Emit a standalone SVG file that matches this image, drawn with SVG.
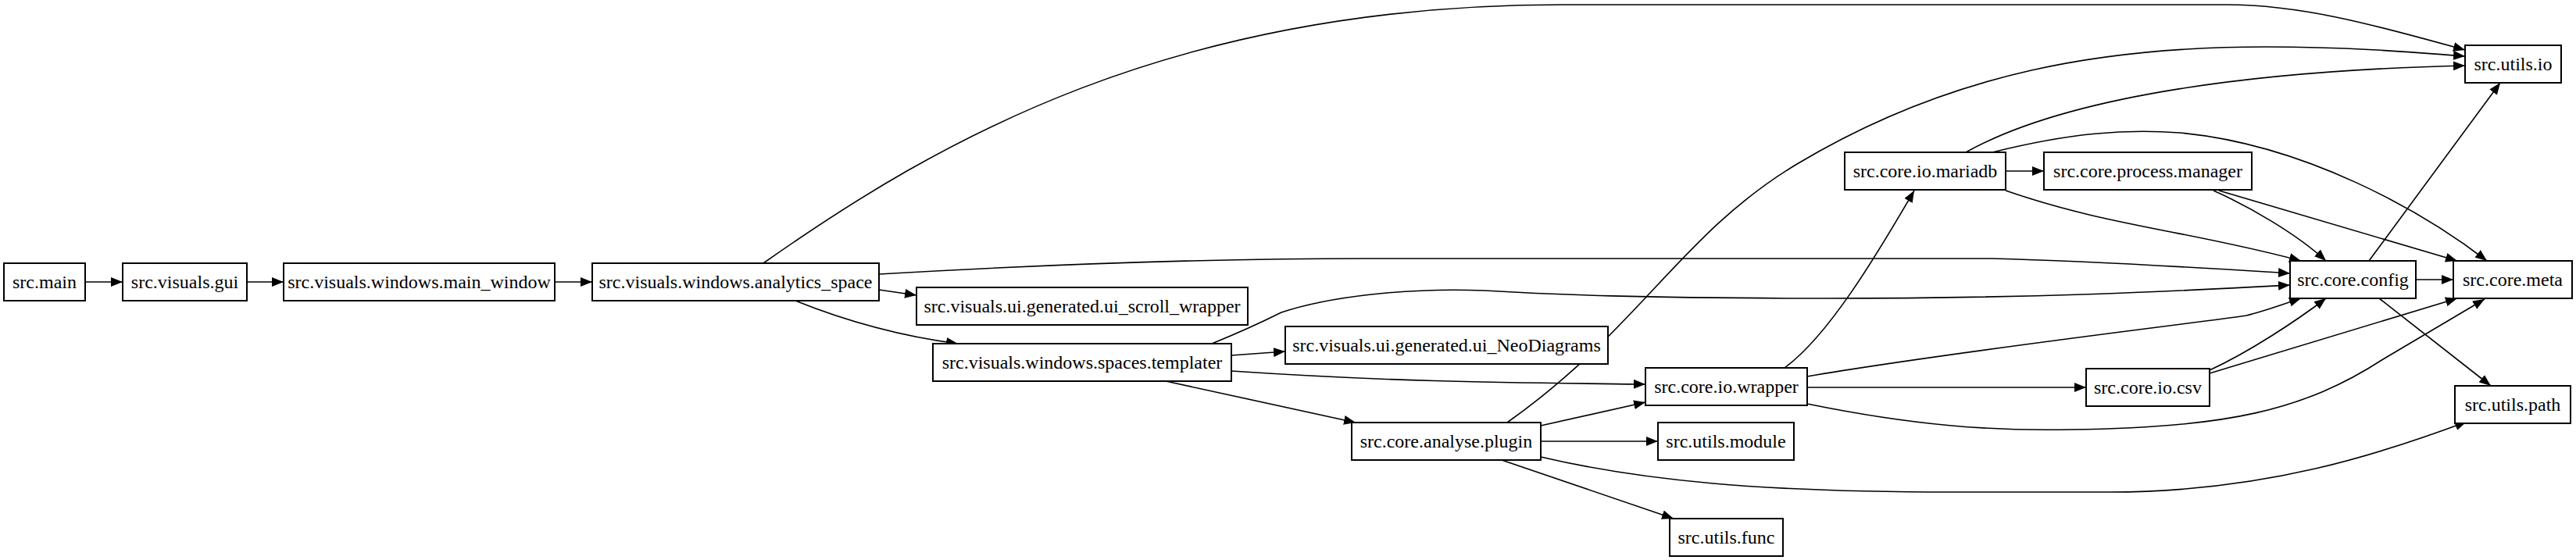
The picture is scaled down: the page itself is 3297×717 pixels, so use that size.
<svg xmlns="http://www.w3.org/2000/svg" width="3297" height="717" viewBox="0 0 3297 717">
<style>
.n rect{fill:#fff;stroke:#000;stroke-width:2}
.n text{font-family:"Liberation Serif","Times New Roman",serif;font-size:24px;text-anchor:middle;dominant-baseline:central;fill:#000}
.e path{fill:none;stroke:#000;stroke-width:1.6;marker-end:url(#a)}
</style>
<defs><marker id="a" markerUnits="userSpaceOnUse" markerWidth="16" markerHeight="12" refX="15" refY="6" orient="auto"><path d="M0,0 L15,6 L0,12 Z" fill="#000"/></marker></defs>
<g id="edges" class="e">
<path d="M109,361 L157,361"/>
<path d="M316,361 L363,361"/>
<path d="M710,361 L758,361"/>
<path d="M977,337 C1200,180 1500,6 2000,6 L2850,6 C2950,6 3050,35 3155,64"/>
<path d="M1125,351 C1400,335 1600,331 1750,331 L2550,331 C2700,335 2850,345 2931,350"/>
<path d="M1125,371 L1173,378"/>
<path d="M1018,385 C1080,410 1150,430 1226,440"/>
<path d="M1551,440 C1600,420 1620,410 1640,400 C1700,380 1800,368 1900,372 C2000,378 2100,381 2300,382 C2600,383 2800,372 2931,365"/>
<path d="M1576,455 L1645,450"/>
<path d="M1576,475 C1800,490 1950,490 2106,492"/>
<path d="M1492,488 L1735,541"/>
<path d="M1929,541 C2100,420 2150,300 2300,210 C2500,90 2700,60 2900,60 C3000,60 3080,66 3155,72"/>
<path d="M1972,545 L2106,515"/>
<path d="M1972,565 L2122,565"/>
<path d="M1972,585 C2100,615 2250,630 2500,630 L2700,630 C2900,630 3050,580 3157,540"/>
<path d="M1922,589 L2142,664"/>
<path d="M2284,471 C2340,430 2400,330 2450,244"/>
<path d="M2313,482 C2500,450 2800,415 2875,404 C2900,398 2920,390 2945,382"/>
<path d="M2313,496 L2670,496"/>
<path d="M2313,517 C2450,545 2550,552 2650,550 C2850,548 2950,525 3050,460 L3180,383"/>
<path d="M2516,195 C2650,120 2900,90 3155,84"/>
<path d="M2550,195 C2650,170 2720,165 2790,170 C2950,185 3100,270 3183,334"/>
<path d="M2567,219 L2616,219"/>
<path d="M2567,244 C2700,290 2800,295 2945,334"/>
<path d="M2833,244 C2880,265 2940,300 2977,334"/>
<path d="M2840,244 L3145,334"/>
<path d="M3032,334 L3200,106"/>
<path d="M3092,358 L3140,358"/>
<path d="M3045,382 L3188,494"/>
<path d="M2828,474 C2880,450 2940,410 2977,382"/>
<path d="M2828,478 L3145,382"/>
</g>
<g id="n1" class="n"><rect x="5" y="337" width="104" height="48"/><text x="57" y="361">src.main</text></g>
<g id="n2" class="n"><rect x="157" y="337" width="159" height="48"/><text x="236.5" y="361">src.visuals.gui</text></g>
<g id="n3" class="n"><rect x="363" y="337" width="347" height="48"/><text x="536.5" y="361">src.visuals.windows.main_window</text></g>
<g id="n4" class="n"><rect x="758" y="337" width="367" height="48"/><text x="941.5" y="361">src.visuals.windows.analytics_space</text></g>
<g id="n5" class="n"><rect x="1173" y="368" width="424" height="48"/><text x="1385" y="392">src.visuals.ui.generated.ui_scroll_wrapper</text></g>
<g id="n6" class="n"><rect x="1194" y="440" width="382" height="48"/><text x="1385" y="464">src.visuals.windows.spaces.templater</text></g>
<g id="n7" class="n"><rect x="1645" y="418" width="413" height="48"/><text x="1851.5" y="442">src.visuals.ui.generated.ui_NeoDiagrams</text></g>
<g id="n8" class="n"><rect x="2106" y="471" width="207" height="48"/><text x="2209.5" y="495">src.core.io.wrapper</text></g>
<g id="n9" class="n"><rect x="1730" y="541" width="242" height="48"/><text x="1851" y="565">src.core.analyse.plugin</text></g>
<g id="n10" class="n"><rect x="2122" y="541" width="174" height="48"/><text x="2209" y="565">src.utils.module</text></g>
<g id="n11" class="n"><rect x="2137" y="664" width="145" height="48"/><text x="2209.5" y="688">src.utils.func</text></g>
<g id="n12" class="n"><rect x="2361" y="195" width="206" height="48"/><text x="2464" y="219">src.core.io.mariadb</text></g>
<g id="n13" class="n"><rect x="2616" y="195" width="266" height="48"/><text x="2749" y="219">src.core.process.manager</text></g>
<g id="n14" class="n"><rect x="2931" y="334" width="161" height="48"/><text x="3011.5" y="358">src.core.config</text></g>
<g id="n15" class="n"><rect x="3140" y="334" width="152" height="48"/><text x="3216" y="358">src.core.meta</text></g>
<g id="n16" class="n"><rect x="3155" y="58" width="123" height="48"/><text x="3216.5" y="82">src.utils.io</text></g>
<g id="n17" class="n"><rect x="3142" y="494" width="148" height="48"/><text x="3216" y="518">src.utils.path</text></g>
<g id="n18" class="n"><rect x="2670" y="472" width="158" height="48"/><text x="2749" y="496">src.core.io.csv</text></g>
</svg>
